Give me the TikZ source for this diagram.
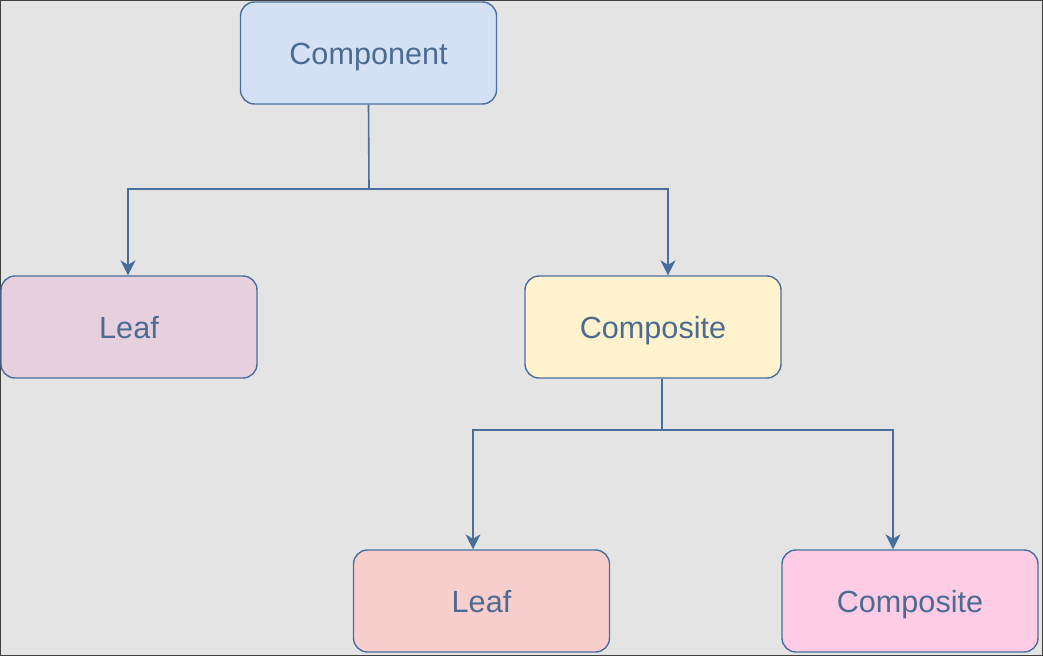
\documentclass[tikz,border=0pt]{standalone}
\usepackage{fontspec}
\setmainfont{Liberation Sans}
\usetikzlibrary{arrows.meta}
\definecolor{bg}{HTML}{E4E4E4}
\definecolor{strk}{HTML}{4A6E9C}
\definecolor{txt}{HTML}{4C6B93}
\definecolor{fcomp}{HTML}{D4E1F5}
\definecolor{fleafa}{HTML}{E6D0DE}
\definecolor{fcompa}{HTML}{FFF2CC}
\definecolor{fleafb}{HTML}{F8CECC}
\definecolor{fcompb}{HTML}{FFCCE6}
\tikzset{
  box/.style={draw=strk, line width=1.4pt, rounded corners=14pt, minimum width=256pt, minimum height=102pt, inner sep=0pt, text height=22pt, text depth=0pt, text=txt, font=\fontsize{30.6}{36}\selectfont},
  conn/.style={draw=strk, line width=1.6pt},
  arr/.style={conn, -{Stealth[length=15pt,width=15pt,inset=4.5pt]}}
}
\begin{document}
\begin{tikzpicture}[x=1pt,y=-1pt]
\fill[bg] (0,0) rectangle (1043,656);
\draw[black!75, line width=1pt] (0.5,0.5) rectangle (1042,655.5);
\useasboundingbox (0,0) rectangle (1043,656);
\node[box, fill=fcomp] (comp) at (368.5,53) {Component};
\node[box, fill=fleafa] (leafa) at (129,327) {Leaf};
\node[box, fill=fcompa] (compa) at (653,327) {Composite};
\node[box, fill=fleafb] (leafb) at (481.5,601) {Leaf};
\node[box, fill=fcompb] (compb) at (910,601) {Composite};
\coordinate (ja) at (369,189);
\coordinate (jb) at (662,430);
\draw[conn] (comp.south) -- (ja);
\draw[arr] (ja) -| ([xshift=-1pt]leafa.north);
\draw[arr] (ja) -| ([xshift=15pt]compa.north);
\draw[conn] ([xshift=9pt]compa.south) -- (jb);
\draw[arr] (jb) -| ([xshift=-8.5pt]leafb.north);
\draw[arr] (jb) -| ([xshift=-17pt]compb.north);
\end{tikzpicture}
\end{document}
